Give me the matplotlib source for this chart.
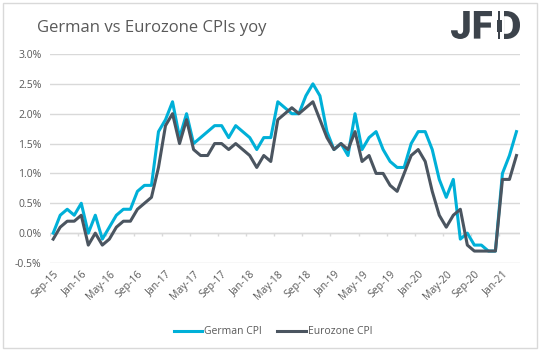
import matplotlib.pyplot as plt
from matplotlib.patches import Rectangle, PathPatch
from matplotlib.textpath import TextPath
from matplotlib.font_manager import FontProperties
from matplotlib.transforms import Affine2D

# Monthly yoy CPI, Sep-15 .. Mar-21
start_year, start_month, n_months = 2015, 9, 67
month_names = ['Jan', 'Feb', 'Mar', 'Apr', 'May', 'Jun',
               'Jul', 'Aug', 'Sep', 'Oct', 'Nov', 'Dec']
labels = []
for i in range(n_months):
    m = (start_month - 1 + i) % 12
    y = start_year + (start_month - 1 + i) // 12
    labels.append(f"{month_names[m]}-{y % 100:02d}")

german_cpi = [0.0, 0.3, 0.4, 0.3, 0.5, 0.0, 0.3, -0.1, 0.1, 0.3, 0.4, 0.4,
              0.7, 0.8, 0.8, 1.7, 1.9, 2.2, 1.6, 2.0, 1.5, 1.6, 1.7, 1.8,
              1.8, 1.6, 1.8, 1.7, 1.6, 1.4, 1.6, 1.6, 2.2, 2.1, 2.0, 2.0,
              2.3, 2.5, 2.3, 1.7, 1.4, 1.5, 1.3, 2.0, 1.4, 1.6, 1.7, 1.4,
              1.2, 1.1, 1.1, 1.5, 1.7, 1.7, 1.4, 0.9, 0.6, 0.9, -0.1, 0.0,
              -0.2, -0.2, -0.3, -0.3, 1.0, 1.3, 1.7]
eurozone_cpi = [-0.1, 0.1, 0.2, 0.2, 0.3, -0.2, 0.0, -0.2, -0.1, 0.1, 0.2, 0.2,
                0.4, 0.5, 0.6, 1.1, 1.8, 2.0, 1.5, 1.9, 1.4, 1.3, 1.3, 1.5,
                1.5, 1.4, 1.5, 1.4, 1.3, 1.1, 1.3, 1.2, 1.9, 2.0, 2.1, 2.0,
                2.1, 2.2, 1.9, 1.6, 1.4, 1.5, 1.4, 1.7, 1.2, 1.3, 1.0, 1.0,
                0.8, 0.7, 1.0, 1.3, 1.4, 1.2, 0.7, 0.3, 0.1, 0.3, 0.4, -0.2,
                -0.3, -0.3, -0.3, -0.3, 0.9, 0.9, 1.3]
y_ticks = [-0.5, 0.0, 0.5, 1.0, 1.5, 2.0, 2.5, 3.0]

plt.rcParams['font.family'] = ['Open Sans', 'DejaVu Sans']

W, H = 543, 351
fig = plt.figure(figsize=(W / 100, H / 100), dpi=100)
ax = fig.add_axes([0.0915, 0.2507, 0.8661, 0.5955])

x = list(range(n_months))
ax.plot(x, german_cpi, color='#00B0D8', lw=2.2, label='German CPI', zorder=3)
ax.plot(x, eurozone_cpi, color='#4B5560', lw=2.2, label='Eurozone CPI', zorder=4)

ax.set_xlim(-0.5, n_months - 0.5)
ax.set_ylim(-0.5, 3.0)
ax.set_yticks(y_ticks)
ax.set_yticklabels([f"{v:.1f}%" for v in y_ticks])
ax.yaxis.grid(True, color='#D9D9D9', lw=1)
ax.set_axisbelow(True)
for s in ax.spines.values():
    s.set_visible(False)
ax.tick_params(axis='y', length=0, labelsize=7.5, colors='#595959', pad=6)

tick_pos = list(range(0, n_months, 4))
ax.set_xticks(tick_pos)
ax.set_xticklabels([labels[i] for i in tick_pos], rotation=45, ha='right',
                   rotation_mode='anchor')
ax.tick_params(axis='x', length=0, labelsize=7.5, colors='#595959', pad=4)

# small tick marks on the zero line, between categories
ax.axhline(0, color='#D9D9D9', lw=1, zorder=1)
ax.vlines([p - 0.5 for p in range(0, n_months + 1, 4)], -0.04, 0,
          color='#D9D9D9', lw=1, zorder=1)

fig.text(37 / W, 1 - 28 / H, 'German vs Eurozone CPIs yoy', fontsize=12,
         color='#595959', va='center', ha='left')

# logo: JF + D with a candlestick for its stem (pixel coords, y from top)
logo_color = '#3C434B'
px = Affine2D().scale(1 / W, 1 / H) + fig.transFigure
fp = FontProperties(family='Roboto', weight='black')


def glyph(text, x0, x1, top, bottom):
    tp = TextPath((0, 0), text, size=100, prop=fp)
    ext = tp.get_extents()
    t = (Affine2D().translate(-ext.x0, -ext.y0)
         .scale((x1 - x0) / ext.width, (bottom - top) / ext.height)
         .translate(x0, H - bottom))
    fig.patches.append(PathPatch(t.transform_path(tp), transform=px,
                                 facecolor=logo_color, edgecolor='none'))


glyph('JF', 451, 492, 11, 39)
glyph('D', 497, 520, 11, 39)
fig.patches.append(Rectangle((496, H - 40), 7.5, 30, transform=px,
                             facecolor='white', edgecolor='none'))
fig.patches.append(Rectangle((498, H - 39), 1.6, 28, transform=px,
                             facecolor=logo_color, edgecolor='none'))
fig.patches.append(Rectangle((496.5, H - 32), 5, 12, transform=px,
                             facecolor=logo_color, edgecolor='none'))

fig.legend(loc='center', bbox_to_anchor=(273 / W, 1 - 332 / H), ncol=2,
           frameon=False, fontsize=7.5, handlelength=2.7, handletextpad=0.2,
           columnspacing=1.5, labelcolor='#595959')

fig.patches.append(Rectangle((3 / W, 3 / H), 534 / W, 345 / H,
                             transform=fig.transFigure, fill=False,
                             edgecolor='#D9D9D9', lw=1))

fig.savefig('out.png', dpi=100)
